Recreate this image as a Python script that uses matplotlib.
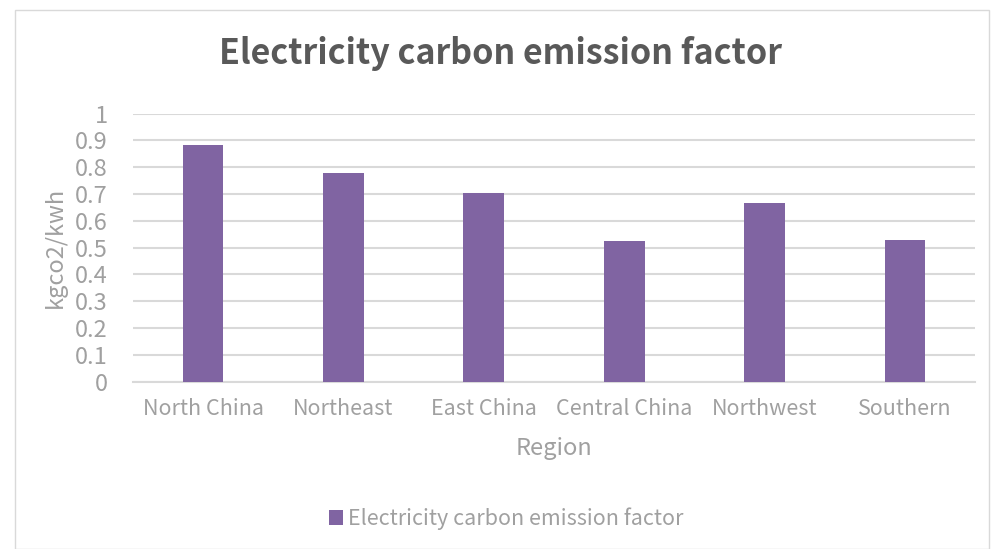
import matplotlib.pyplot as plt
from matplotlib.patches import Rectangle

plt.rcParams['font.family'] = ['Noto Sans CJK SC', 'DejaVu Sans']

regions = ['North China', 'Northeast', 'East China', 'Central China', 'Northwest', 'Southern']
factor = [0.8843, 0.7769, 0.7035, 0.5257, 0.6671, 0.5271]
yticks = [0, 0.1, 0.2, 0.3, 0.4, 0.5, 0.6, 0.7, 0.8, 0.9, 1]

bar_color = '#8064a2'
text_gray = '#a0a0a0'
grid_gray = '#d9d9d9'

fig = plt.figure(figsize=(9.92, 5.49), dpi=100)
ax = fig.add_axes([0.134, 0.305, 0.849, 0.488])

x = range(len(regions))
ax.bar(x, factor, width=0.29, color=bar_color, zorder=3,
       label='Electricity carbon emission factor')

ax.set_xlim(-0.5, len(regions) - 0.5)
ax.set_ylim(0, 1)
ax.set_yticks(yticks)
ax.set_yticklabels([f'{v:g}' for v in yticks])
ax.set_xticks(list(x))
ax.set_xticklabels(regions)
ax.tick_params(axis='x', length=0, labelsize=15.5, labelcolor=text_gray, pad=12)
ax.tick_params(axis='y', length=0, labelsize=17, labelcolor=text_gray, pad=18)

ax.grid(axis='y', color=grid_gray, linewidth=1.5, zorder=0)
for s in ['top', 'right', 'left']:
    ax.spines[s].set_visible(False)
ax.spines['bottom'].set_color(grid_gray)
ax.spines['bottom'].set_linewidth(1.5)

ax.set_xlabel('Region', fontsize=17, color=text_gray, labelpad=12)
ax.set_ylabel('kgco2/kwh', fontsize=17, color=text_gray, labelpad=6)

fig.text(0.505, 0.903, 'Electricity carbon emission factor', ha='center', va='center',
         fontsize=24.5, fontweight='bold', color='#595959')

fig.legend(loc='center', bbox_to_anchor=(0.51, 0.055), frameon=False,
           fontsize=15.5, labelcolor=text_gray, handlelength=0.65, handleheight=0.65,
           handletextpad=0.25)

fig.patches.append(Rectangle((0.015, 0.0), 0.982, 0.982, transform=fig.transFigure,
                             fill=False, edgecolor=grid_gray, linewidth=1))

fig.savefig('out.png', dpi=100)
